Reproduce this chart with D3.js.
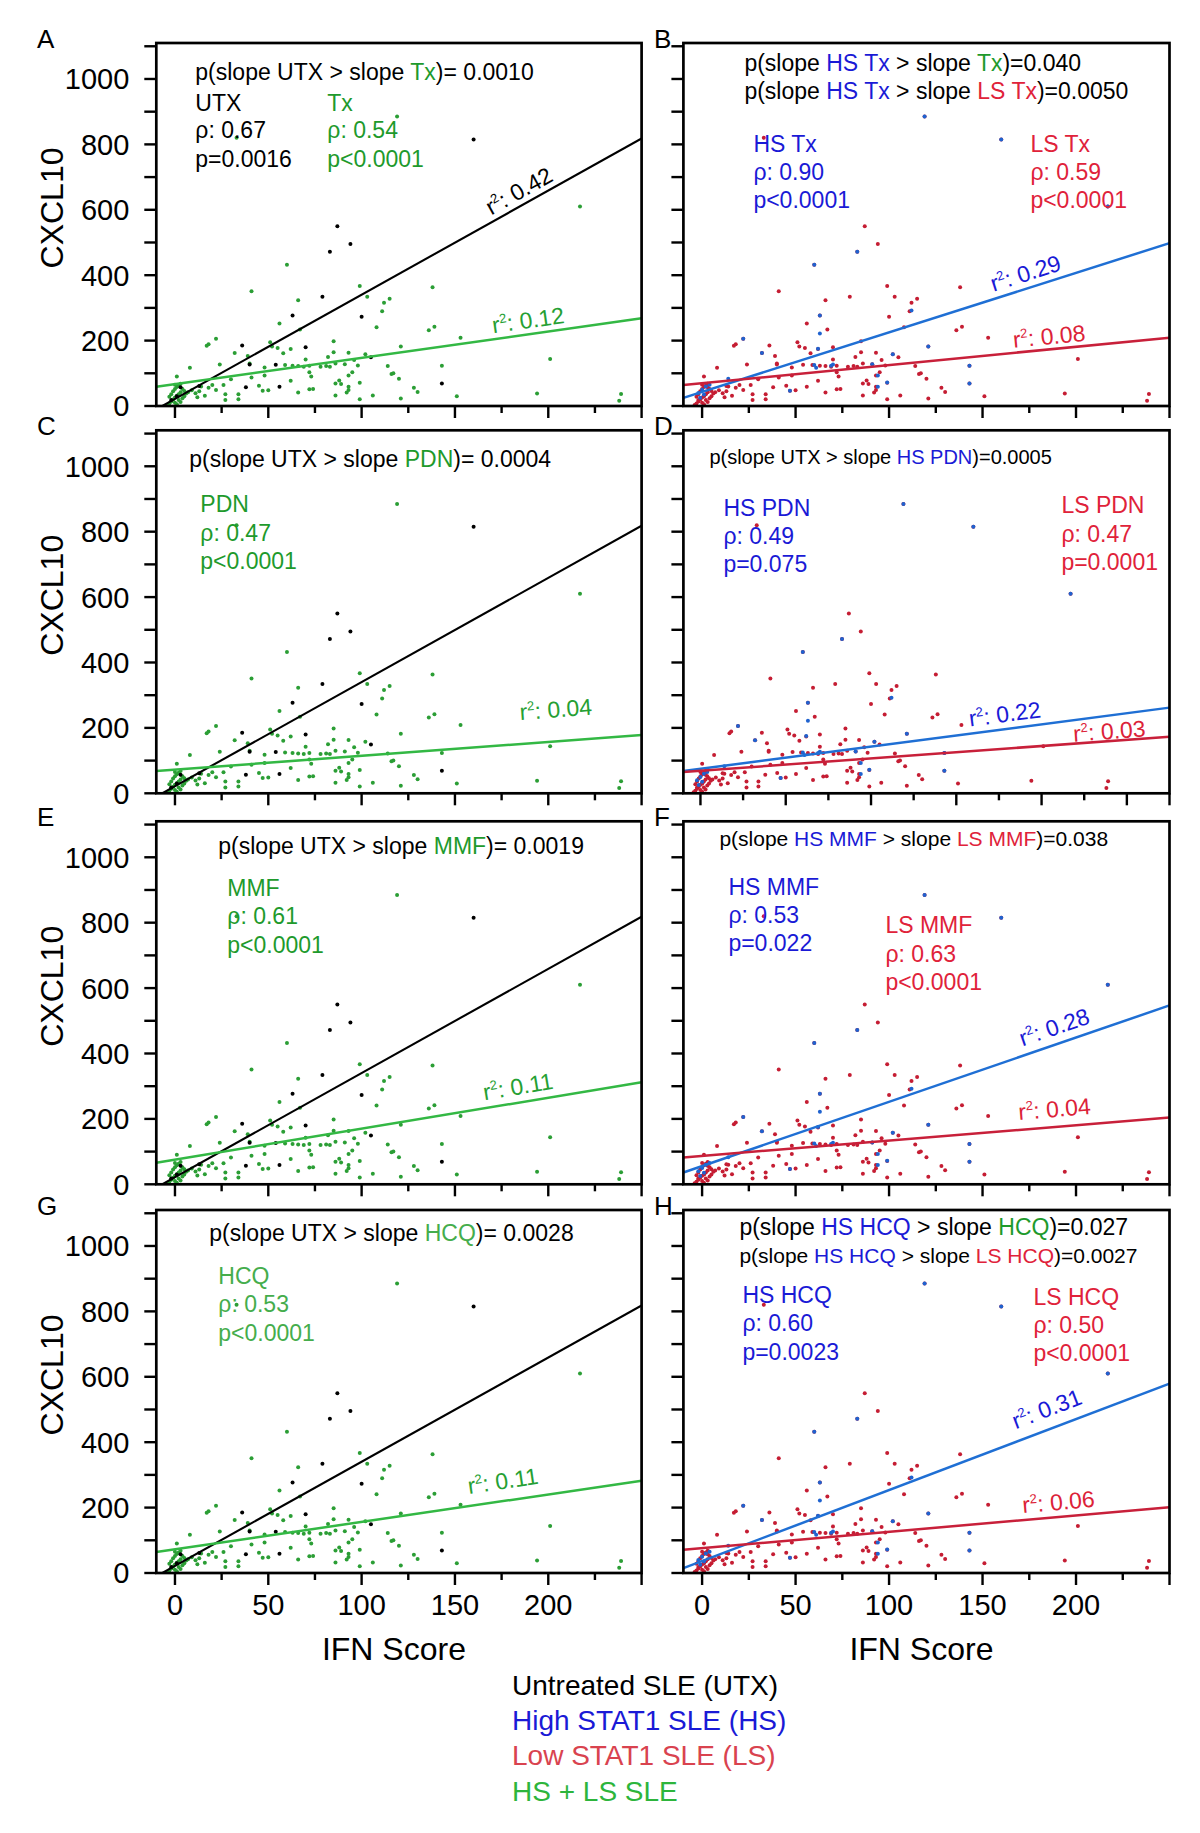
<!DOCTYPE html>
<html><head><meta charset="utf-8">
<script src="https://cdn.jsdelivr.net/npm/d3@7"></script>
<style>body{margin:0;background:#fff} text{font-family:"Liberation Sans",Arial,Helvetica,sans-serif}</style>
</head><body><svg id="c" width="1200" height="1833"></svg>
<script>
// ---------------- data (IFN score, CXCL10) ----------------
const utx = [[160,815],[87,550],[94,495],[83,472],[79,334],[63,277],[100,273],[36,185],[70,180],[105,149],[40,127],[54,126],[38,57],[56,59],[143,69],[13,61],[3,57],[-2,18],[1,30]];
const tx = [[119,885],[33,820],[217,610],[60,432],[41,351],[99,367],[138,363],[103,334],[115,328],[112,316],[111,290],[66,323],[56,252],[108,241],[136,232],[139,242],[153,209],[201,144],[22,206],[17,184],[18,189],[8,117],[24,127],[32,162],[39,153],[51,195],[52,182],[55,177],[62,174],[58,161],[67,234],[85,198],[85,164],[93,163],[82,150],[96,141],[102,158],[121,182],[70,142],[66,122],[63,123],[69,120],[72,123],[78,120],[81,122],[83,120],[86,130],[91,128],[98,124],[40,130],[48,118],[59,125],[114,122],[116,98],[117,100],[120,83],[143,123],[95,103],[93,93],[73,90],[72,103],[62,77],[48,93],[41,87],[30,82],[26,64],[22,49],[27,36],[34,36],[34,21],[27,18],[45,62],[47,47],[50,48],[66,41],[72,51],[74,52],[86,32],[86,69],[88,78],[89,67],[92,41],[93,49],[93,59],[99,71],[99,21],[106,32],[121,23],[128,56],[130,43],[151,30],[194,38],[239,37],[238,16],[12,27],[16,31],[11,39],[7,42],[18,56],[20,64],[1,90],[-4,3],[-3,8],[-2,14],[-1,20],[0,26],[1,31],[2,36],[3,42],[-1,45],[0,52],[1,58],[2,63],[3,68],[4,52],[5,46],[6,38],[-3,28],[-2,36],[0,10],[2,18],[4,24],[1,5],[3,12],[5,30],[0,65],[9,48],[14,60],[13,45]];
const hs = [[119,885],[160,815],[217,610],[83,472],[60,432],[63,277],[112,292],[22,206],[32,162],[63,222],[62,175],[121,182],[102,158],[91,128],[60,125],[61,117],[69,123],[70,127],[94,93],[94,59],[99,72],[143,123],[143,69],[47,47],[14,83],[-2,40],[0,50],[2,60],[4,65],[1,35],[-1,25]];
const ls = tx.concat(utx); // positions shown as low STAT1 beneath the high STAT1 points

// regression line values at left and right edge of x-domain
const fitsA = [["utx",-10.1,818],["tx",59,268]];
const fitsB = [["hs",25,498],["ls",64,209]];
const fitsC = [["utx",-10.1,818],["tx",68,178]];
const fitsD = [["hs",68,262],["ls",65,173]];
const fitsE = [["utx",-10.1,818],["tx",66,312]];
const fitsF = [["hs",36,547],["ls",82,204]];
const fitsG = [["utx",-10.1,818],["tx",64,282]];
const fitsH = [["hs",15,579],["ls",71,201]];

// r² labels: [series, value, x position, offset]
const r2A = [["utx","0.42",171,6],["tx","0.12",171,6]];
const r2B = [["hs","0.29",157,7],["ls","0.08",167,5]];
const r2C = [["tx","0.04",186,24]];
const r2D = [["hs","0.22",158.5,7],["ls","0.03",219,2]];
const r2E = [["tx","0.11",166.5,8]];
const r2F = [["hs","0.28",173,9],["ls","0.04",170,10]];
const r2G = [["tx","0.11",158.5,12]];
const r2H = [["hs","0.31",170,12],["ls","0.06",172,7]];

const yTicks = [0,100,200,300,400,500,600,700,800,900,1000,1100];
const yTickLabels = [0,200,400,600,800,1000];
const xTickLabels = [0,50,100,150,200];

// ---------------- styling ----------------
const COL = {
  utx:{pt:"#000",line:"#000",text:"#000"},
  tx:{pt:"#2b9e35",line:"#33b844",text:"#25a033"},
  hs:{pt:"#1f62cf",line:"#1f6fd4",text:"#1a1ad6"},
  ls:{pt:"#c51d33",line:"#c8203a",text:"#dc2238"}
};
const TXT = {k:"#000",g:"#1e9a2c",g2:"#45ad4c",b:"#1a1ad6",r:"#e0223a"};
const colLeft=[156.3,683.4], colRight=[641.6,1169.5];
const rowBase=[406,793.3,1184.3,1573];
const yMax=1110, yPx=363;

const panels = [
 {key:"A",col:0,row:0,xMax:250,fits:fitsA,r2:r2A,text:[
   {dx:39,dy:37,fs:23,segs:[["p(slope UTX > slope ","k"],["Tx","g"],[")= 0.0010","k"]]},
   {dx:39,dy:68,fs:23,segs:[["UTX","k"]]},{dx:171,dy:68,fs:23,segs:[["Tx","g"]]},
   {dx:39,dy:95,fs:23,segs:[["ρ: 0.67","k"]]},{dx:171,dy:95,fs:23,segs:[["ρ: 0.54","g"]]},
   {dx:39,dy:124,fs:23,segs:[["p=0.0016","k"]]},{dx:171,dy:124,fs:23,segs:[["p<0.0001","g"]]}]},
 {key:"B",col:1,row:0,xMax:250,fits:fitsB,r2:r2B,text:[
   {dx:61,dy:28,fs:23,segs:[["p(slope ","k"],["HS Tx","b"],[" > slope ","k"],["Tx","g"],[")=0.040","k"]]},
   {dx:61,dy:56,fs:23,segs:[["p(slope ","k"],["HS Tx","b"],[" > slope ","k"],["LS Tx","r"],[")=0.0050","k"]]},
   {dx:70,dy:109,fs:23,segs:[["HS Tx","b"]]},{dx:70,dy:137,fs:23,segs:[["ρ: 0.90","b"]]},{dx:70,dy:165,fs:23,segs:[["p<0.0001","b"]]},
   {dx:347,dy:109,fs:23,segs:[["LS Tx","r"]]},{dx:347,dy:137,fs:23,segs:[["ρ: 0.59","r"]]},{dx:347,dy:165,fs:23,segs:[["p<0.0001","r"]]}]},
 {key:"C",col:0,row:1,xMax:250,fits:fitsC,r2:r2C,text:[
   {dx:33,dy:37,fs:23,segs:[["p(slope UTX > slope ","k"],["PDN","g"],[")= 0.0004","k"]]},
   {dx:44,dy:82,fs:23,segs:[["PDN","g"]]},{dx:44,dy:111,fs:23,segs:[["ρ: 0.47","g"]]},{dx:44,dy:139,fs:23,segs:[["p<0.0001","g"]]}]},
 {key:"D",col:1,row:1,xMax:275,fits:fitsD,r2:r2D,text:[
   {dx:26,dy:34,fs:20,segs:[["p(slope UTX > slope ","k"],["HS PDN","b"],[")=0.0005","k"]]},
   {dx:40,dy:86,fs:23,segs:[["HS PDN","b"]]},{dx:40,dy:114,fs:23,segs:[["ρ: 0.49","b"]]},{dx:40,dy:142,fs:23,segs:[["p=0.075","b"]]},
   {dx:378,dy:83,fs:23,segs:[["LS PDN","r"]]},{dx:378,dy:112,fs:23,segs:[["ρ: 0.47","r"]]},{dx:378,dy:140,fs:23,segs:[["p=0.0001","r"]]}]},
 {key:"E",col:0,row:2,xMax:250,fits:fitsE,r2:r2E,text:[
   {dx:62,dy:33,fs:23,segs:[["p(slope UTX > slope ","k"],["MMF","g"],[")= 0.0019","k"]]},
   {dx:71,dy:75,fs:23,segs:[["MMF","g"]]},{dx:71,dy:103,fs:23,segs:[["ρ: 0.61","g"]]},{dx:71,dy:132,fs:23,segs:[["p<0.0001","g"]]}]},
 {key:"F",col:1,row:2,xMax:250,fits:fitsF,r2:r2F,text:[
   {dx:36,dy:25,fs:21,segs:[["p(slope ","k"],["HS MMF","b"],[" > slope ","k"],["LS MMF","r"],[")=0.038","k"]]},
   {dx:45,dy:74,fs:23,segs:[["HS MMF","b"]]},{dx:45,dy:102,fs:23,segs:[["ρ: 0.53","b"]]},{dx:45,dy:130,fs:23,segs:[["p=0.022","b"]]},
   {dx:202,dy:112,fs:23,segs:[["LS MMF","r"]]},{dx:202,dy:141,fs:23,segs:[["ρ: 0.63","r"]]},{dx:202,dy:169,fs:23,segs:[["p<0.0001","r"]]}]},
 {key:"G",col:0,row:3,xMax:250,fits:fitsG,r2:r2G,text:[
   {dx:53,dy:31,fs:23,segs:[["p(slope UTX > slope ","k"],["HCQ","g2"],[")= 0.0028","k"]]},
   {dx:62,dy:74,fs:23,segs:[["HCQ","g2"]]},{dx:62,dy:102,fs:23,segs:[["ρ: 0.53","g2"]]},{dx:62,dy:131,fs:23,segs:[["p<0.0001","g2"]]}]},
 {key:"H",col:1,row:3,xMax:250,fits:fitsH,r2:r2H,text:[
   {dx:56,dy:25,fs:23,segs:[["p(slope ","k"],["HS HCQ","b"],[" > slope ","k"],["HCQ","g"],[")=0.027","k"]]},
   {dx:56,dy:53,fs:21,segs:[["p(slope ","k"],["HS HCQ","b"],[" > slope ","k"],["LS HCQ","r"],[")=0.0027","k"]]},
   {dx:59,dy:93,fs:23,segs:[["HS HCQ","b"]]},{dx:59,dy:121,fs:23,segs:[["ρ: 0.60","b"]]},{dx:59,dy:150,fs:23,segs:[["p=0.0023","b"]]},
   {dx:350,dy:95,fs:23,segs:[["LS HCQ","r"]]},{dx:350,dy:123,fs:23,segs:[["ρ: 0.50","r"]]},{dx:350,dy:151,fs:23,segs:[["p<0.0001","r"]]}]}
];

const svg = d3.select("#c");
svg.append("rect").attr("width",1200).attr("height",1833).attr("fill","#fff");

panels.forEach((p,i)=>{
  const L=colLeft[p.col], R=colRight[p.col], B=rowBase[p.row], T=B-yPx;
  const x=d3.scaleLinear().domain([-10,p.xMax]).range([L,R]);
  const y=d3.scaleLinear().domain([0,yMax]).range([B,T]);
  const g=svg.append("g");
  const cid="clip"+p.key;
  g.append("clipPath").attr("id",cid).append("rect").attr("x",L).attr("y",T).attr("width",R-L).attr("height",B-T);

  const left = p.col===0;
  const layers = left ? [["tx",tx],["utx",utx]] : [["ls",ls],["hs",hs]];
  const pg=g.append("g").attr("clip-path",`url(#${cid})`);
  layers.forEach(([s,arr])=>{
    pg.selectAll(null).data(arr).join("circle")
      .attr("cx",d=>x(d[0])).attr("cy",d=>y(d[1])).attr("r",2).attr("fill",COL[s].pt);
  });
  p.fits.forEach(([s,y0,y1])=>{
    pg.append("line").attr("x1",x(-10)).attr("y1",y(y0)).attr("x2",x(p.xMax)).attr("y2",y(y1))
      .attr("stroke",COL[s].line).attr("stroke-width",s==="utx"?2.1:2.5);
  });
  p.r2.forEach(([s,val,xs,off])=>{
    const f=p.fits.find(d=>d[0]===s);
    const yv=f[1]+(f[2]-f[1])*(xs+10)/(p.xMax+10);
    const ang=Math.atan2(y(f[2])-y(f[1]), x(p.xMax)-x(-10))*180/Math.PI;
    const t=g.append("text").attr("transform",`translate(${x(xs)},${y(yv)}) rotate(${ang})`)
      .attr("y",-off).attr("font-size",23).attr("fill",COL[s].text);
    t.append("tspan").text("r");
    t.append("tspan").attr("dy",-9).attr("font-size",13).text("2");
    t.append("tspan").attr("dy",9).text(": "+val);
  });
  g.append("rect").attr("x",L).attr("y",T).attr("width",R-L).attr("height",B-T)
    .attr("fill","none").attr("stroke","#000").attr("stroke-width",2.7);
  g.selectAll(null).data(yTicks).join("line")
    .attr("x1",L-12).attr("x2",L).attr("y1",d=>y(d)).attr("y2",d=>y(d))
    .attr("stroke","#000").attr("stroke-width",2.4);
  const xt=d3.range(0,p.xMax+1,25);
  g.selectAll(null).data(xt).join("line")
    .attr("x1",d=>x(d)).attr("x2",d=>x(d)).attr("y1",B)
    .attr("y2",d=>B+((d%50===0||d===p.xMax)?12:7))
    .attr("stroke","#000").attr("stroke-width",2.4);
  if(left){
    g.selectAll(null).data(yTickLabels).join("text")
      .attr("x",L-27).attr("y",d=>y(d)).attr("dy","0.36em").attr("text-anchor","end")
      .attr("font-size",29).text(d=>d);
    g.append("text").attr("transform",`translate(63,${B-198}) rotate(-90)`)
      .attr("text-anchor","middle").attr("font-size",32).text("CXCL10");
  }
  if(p.row===3){
    g.selectAll(null).data(xTickLabels).join("text")
      .attr("x",d=>x(d)).attr("y",B+42).attr("text-anchor","middle")
      .attr("font-size",29).text(d=>d);
    g.append("text").attr("x",(L+R)/2-5).attr("y",1660).attr("text-anchor","middle")
      .attr("font-size",32).text("IFN Score");
  }
  g.append("text").attr("x",left?37:654).attr("y",T+5).attr("font-size",26).text(p.key);
  p.text.forEach(tb=>{
    const t=g.append("text").attr("x",L+tb.dx).attr("y",T+tb.dy).attr("font-size",tb.fs);
    tb.segs.forEach(([s,c])=>t.append("tspan").attr("fill",TXT[c]).text(s));
  });
});

const legendItems=[["Untreated SLE (UTX)","#000"],["High STAT1 SLE (HS)","#1a1ad6"],["Low STAT1 SLE (LS)","#d9434f"],["HS + LS SLE","#2db53c"]];
svg.selectAll(".leg").data(legendItems).join("text").attr("class","leg")
  .attr("x",512).attr("y",(d,i)=>1695+i*35.2).attr("font-size",28)
  .attr("fill",d=>d[1]).text(d=>d[0]);
</script></body></html>
